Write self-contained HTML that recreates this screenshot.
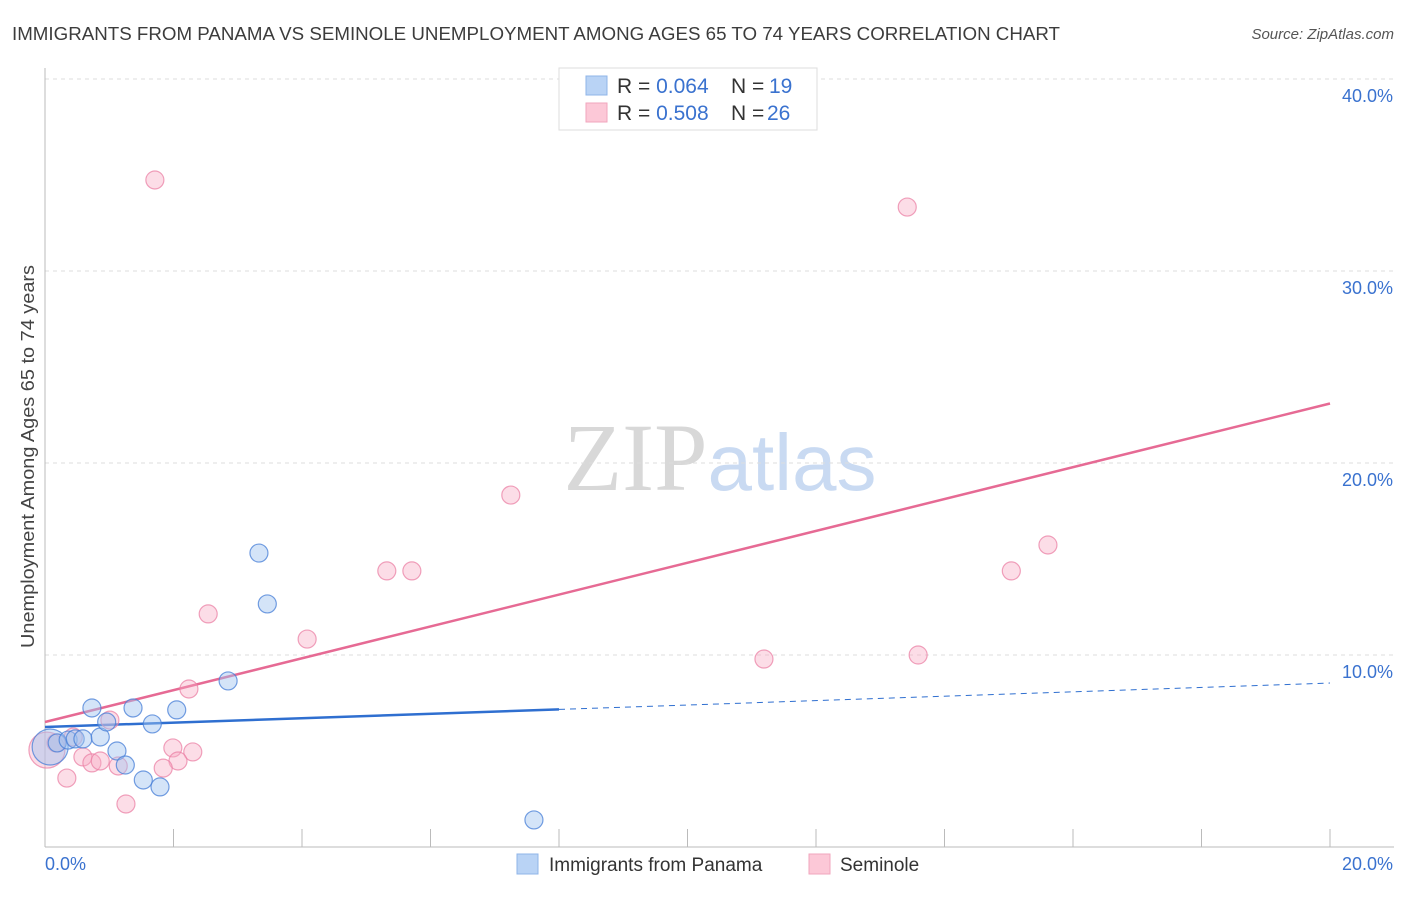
<!DOCTYPE html>
<html><head><meta charset="utf-8"><style>
body{margin:0;background:#fff;font-family:"Liberation Sans",sans-serif}
svg text{font-family:"Liberation Sans",sans-serif}
</style></head><body>
<svg id="chart" width="1406" height="892" xmlns="http://www.w3.org/2000/svg">
<text x="12" y="40" font-size="18" fill="#3c3c3c" textLength="1048" lengthAdjust="spacingAndGlyphs">IMMIGRANTS FROM PANAMA VS SEMINOLE UNEMPLOYMENT AMONG AGES 65 TO 74 YEARS CORRELATION CHART</text>
<text x="1394" y="39" font-size="15" fill="#555" font-style="italic" text-anchor="end">Source: ZipAtlas.com</text>
<text x="720" y="490" font-size="96" text-anchor="middle"><tspan fill="#d8d8d8" font-family="Liberation Serif,serif">ZIP</tspan><tspan fill="#c9daf2" font-size="80">atlas</tspan></text>
<text transform="translate(34,648) rotate(-90)" font-size="18" fill="#444" textLength="383" lengthAdjust="spacingAndGlyphs">Unemployment Among Ages 65 to 74 years</text>
<g id="grid"></g><g id="axes"></g><g id="lines"></g><g id="pts"></g>
<g>
<rect x="559" y="68" width="258" height="62" fill="#fff" stroke="#ddd"/>
<rect x="586" y="76" width="21" height="19" fill="#b9d3f5" stroke="#8fb4e8"/>
<rect x="586" y="103" width="21" height="19" fill="#fcc8d7" stroke="#f1a6bd"/>
<text x="617" y="93" font-size="21" fill="#333">R = <tspan fill="#3a72cf">0.064</tspan><tspan x="731">N = </tspan><tspan x="769" fill="#3a72cf">19</tspan></text>
<text x="617" y="120" font-size="21" fill="#333">R = <tspan fill="#3a72cf">0.508</tspan><tspan x="731">N = </tspan><tspan x="767" fill="#3a72cf">26</tspan></text>
</g>
<g>
<rect x="517" y="854" width="21" height="20" fill="#b9d3f5" stroke="#8fb4e8"/>
<text x="549" y="871" font-size="19" fill="#333">Immigrants from Panama</text>
<rect x="809" y="854" width="21" height="20" fill="#fcc8d7" stroke="#f1a6bd"/>
<text x="840" y="871" font-size="19" fill="#333">Seminole</text>
</g>
</svg>
<script>
const yTicks=[10,20,30,40];
const yTickLabels=["10.0%","20.0%","30.0%","40.0%"];
const xTickLabels=["0.0%","20.0%"];
const blueX=[0.08,0.19,0.36,0.47,0.59,0.73,0.86,0.96,1.12,1.25,1.37,1.53,1.67,1.79,2.05,2.85,3.33,3.46,7.61];
const blueY=[5.21,5.42,5.57,5.63,5.63,7.24,5.73,6.51,5.0,4.27,7.24,3.49,6.41,3.13,7.14,8.65,15.31,12.66,1.41];
const pinkX=[1.71,13.42,7.25,5.32,5.71,15.04,15.61,2.54,4.08,11.19,13.59,2.24,1.01,0.17,0.03,1.99,2.30,0.59,0.73,0.86,1.14,2.07,1.84,0.34,1.26,0.44];
const pinkY=[34.74,33.33,18.33,14.38,14.38,14.38,15.73,12.14,10.83,9.79,10.0,8.23,6.61,5.42,5.05,5.16,4.95,4.69,4.38,4.48,4.22,4.48,4.11,3.59,2.24,5.73];
const blueTrend=[6.25,8.54];
const pinkTrend=[6.51,23.1];
const NS="http://www.w3.org/2000/svg";
const X=v=>45+v*64.25, Y=v=>847-v*19.2;
function mk(p,t,a){const e=document.createElementNS(NS,t);for(const k in a)e.setAttribute(k,a[k]);document.getElementById(p).appendChild(e);return e;}
yTicks.forEach((t,i)=>{
 const g=mk('grid','line',{x1:45,x2:1394,y1:Y(t),y2:Y(t),stroke:'#ddd','stroke-dasharray':'4,4'});
 
 
 const l=mk('axes','text',{x:1393,y:Y(t)+23,'font-size':18,fill:'#3a72cf','text-anchor':'end'});l.textContent=yTickLabels[i];
 
 
});
mk('axes','line',{x1:45,x2:45,y1:68,y2:847,stroke:'#bbb'});
mk('axes','line',{x1:45,x2:1394,y1:847,y2:847,stroke:'#bbb'});
for(let i=0;i<=10;i++){const t=mk('axes','line',{x1:X(i*2),x2:X(i*2),y1:829,y2:847,stroke:'#bbb'});
 
 }
const xl0=mk('axes','text',{x:45,y:870,'font-size':18,fill:'#3a72cf'});xl0.textContent=xTickLabels[0];


const xl1=mk('axes','text',{x:1393,y:870,'font-size':18,fill:'#3a72cf','text-anchor':'end'});xl1.textContent=xTickLabels[1];


function pt(x,y,big,fill,stroke,name){const c=mk('pts','circle',{cx:X(x),cy:Y(y),r:big?18:9,fill:fill,stroke:stroke,'stroke-width':1.2});
 
 }
pinkX.forEach((x,i)=>pt(x,pinkY[i],i==14,'rgba(248,170,195,0.4)','rgba(235,130,165,0.75)','seminole-point'));
blueX.forEach((x,i)=>pt(x,blueY[i],i==0,'rgba(160,195,240,0.45)','rgba(70,125,215,0.75)','panama-point'));
const bm=blueTrend[0]+(blueTrend[1]-blueTrend[0])*8/20;
const b1=mk('lines','line',{x1:X(0),y1:Y(blueTrend[0]),x2:X(8),y2:Y(bm),stroke:'#2f6fd0','stroke-width':2.5});


const b2=mk('lines','line',{x1:X(8),y1:Y(bm),x2:X(20),y2:Y(blueTrend[1]),stroke:'#2f6fd0','stroke-width':1,'stroke-dasharray':'6,5'});


const p1=mk('lines','line',{x1:X(0),y1:Y(pinkTrend[0]),x2:X(20),y2:Y(pinkTrend[1]),stroke:'#e66a94','stroke-width':2.5});


</script>
</body></html>
